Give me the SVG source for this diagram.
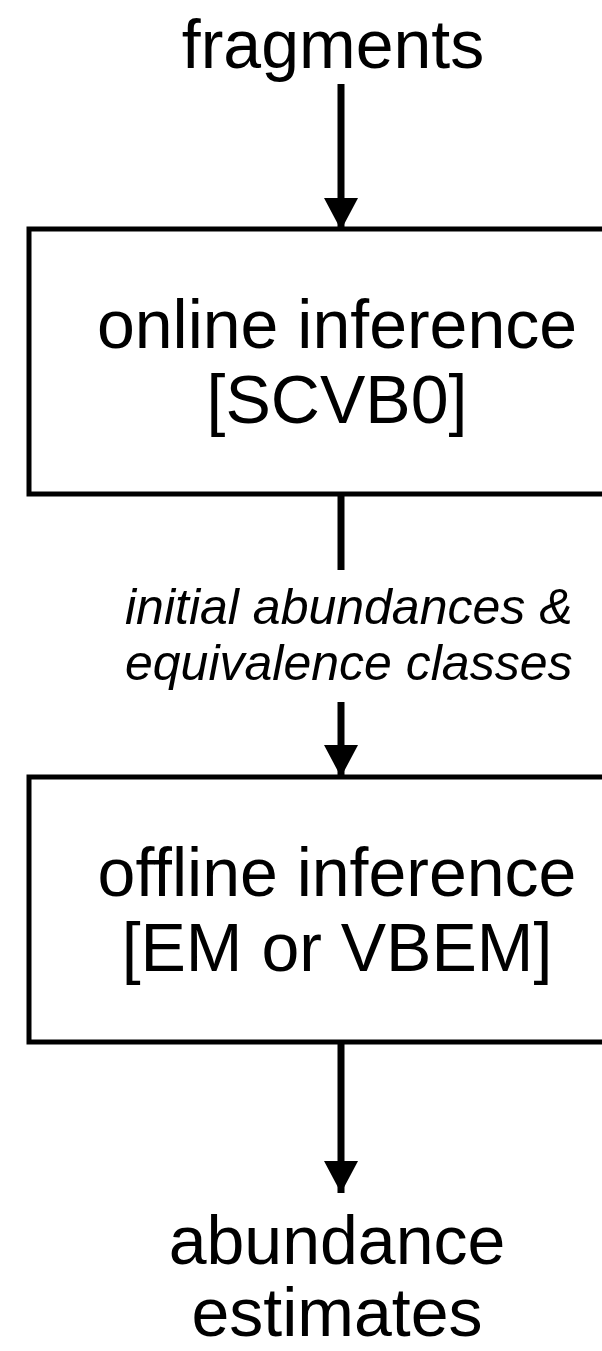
<svg xmlns="http://www.w3.org/2000/svg" width="602" height="1351" viewBox="0 0 602 1351">
<style>
.t{font-family:"Liberation Sans",Arial,Helvetica,sans-serif;font-size:68px;fill:#000;text-anchor:middle}
.i{font-family:"Liberation Sans",Arial,Helvetica,sans-serif;font-size:50px;font-style:italic;fill:#000;text-anchor:start}
.box{fill:#fff;stroke:#000;stroke-width:5}
.c{stroke:#000;stroke-width:7;fill:none}
</style>
<defs>
<marker id="ah" markerUnits="userSpaceOnUse" markerWidth="34" markerHeight="34" viewBox="0 0 32 34" refX="32" refY="17" orient="auto">
<path d="M0,0 L32,17 L0,34 Z" fill="#000"/>
</marker>
</defs>
<rect width="602" height="1351" fill="#fff"/>
<g id="n-fragments"><text class="t" x="333" y="68">fragments</text></g>
<g id="n-online">
<rect class="box" x="29" y="229" width="600" height="265"/>
<text class="t" x="337" y="348">online inference</text>
<text class="t" x="337" y="423">[SCVB0]</text>
</g>
<g id="n-offline">
<rect class="box" x="29" y="777" width="600" height="265"/>
<text class="t" x="337" y="896">offline inference</text>
<text class="t" x="337" y="971">[EM or VBEM]</text>
</g>
<g id="n-estimates">
<text class="t" x="337" y="1264">abundance</text>
<text class="t" x="337" y="1336">estimates</text>
</g>
<g id="connectors">
<line class="c" x1="341" y1="84" x2="341" y2="230" marker-end="url(#ah)"/>
<line class="c" x1="341" y1="496" x2="341" y2="570"/>
<text class="i" x="125" y="624">initial abundances &amp;</text>
<text class="i" x="125" y="680">equivalence classes</text>
<line class="c" x1="341" y1="702" x2="341" y2="777" marker-end="url(#ah)"/>
<line class="c" x1="341" y1="1042" x2="341" y2="1193" marker-end="url(#ah)"/>
</g>
</svg>
